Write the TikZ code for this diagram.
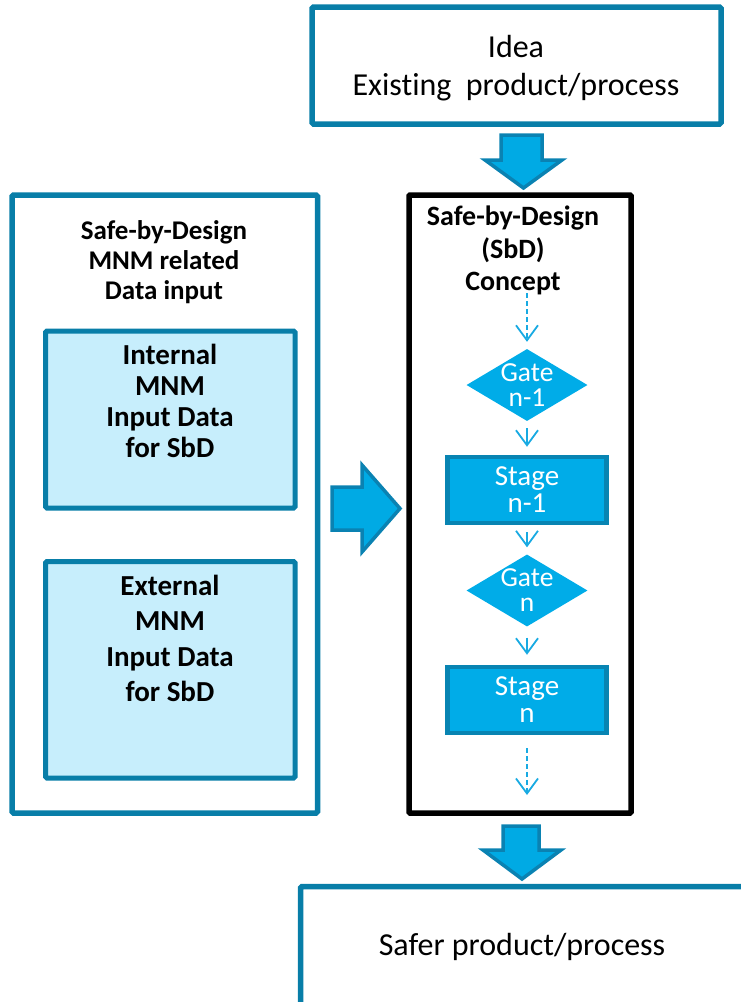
\documentclass[tikz,border=0pt]{standalone}
\usepackage{fontspec}
\setmainfont{Carlito}[Ligatures=NoCommon]
\usetikzlibrary{arrows.meta,shapes.geometric}
\definecolor{frameblue}{RGB}{8,126,168}
\definecolor{panelfill}{RGB}{199,238,252}
\definecolor{stepfill}{RGB}{0,172,232}
\definecolor{stepedge}{RGB}{8,132,178}
\definecolor{arrowfill}{RGB}{0,170,228}
\definecolor{arrowedge}{RGB}{10,130,178}
\definecolor{flowblue}{RGB}{24,170,226}
\begin{document}
\begin{tikzpicture}[x=1pt,y=-1pt,
  frame/.style={draw=frameblue, line width=5.5pt, rounded corners=1.5pt, inner sep=0pt},
  sbdframe/.style={draw=black, line width=5.5pt, rounded corners=1pt, inner sep=0pt},
  panel/.style={draw=frameblue, fill=panelfill, line width=5pt, rounded corners=1.5pt, inner sep=0pt},
  stagebox/.style={draw=stepedge, fill=stepfill, line width=4.5pt, inner sep=0pt,
    minimum width=159pt, minimum height=66pt, text=white, align=center,
    font=\fontsize{29}{27}\selectfont},
  gate/.style={diamond, fill=stepfill, inner sep=0pt, minimum width=121pt, minimum height=72pt},
  gatetext/.style={text=white, align=center, inner sep=0pt, font=\fontsize{27.5}{25}\selectfont},
  heading/.style={align=center, inner sep=0pt, font=\bfseries\fontsize{27}{30}\selectfont},
  paneltext/.style={align=center, inner sep=0pt, font=\bfseries\fontsize{29}{31}\selectfont},
  bigtext/.style={align=center, inner sep=0pt, font=\fontsize{32}{38}\selectfont},
  blockarrow/.style={fill=arrowfill, draw=arrowedge, line width=3.5pt, line join=miter},
  flow/.style={draw=flowblue, line width=1.8pt, -{Straight Barb[length=15pt,width=22pt]}},
  dotted flow/.style={flow, dash pattern=on 5pt off 3pt}
]
\useasboundingbox (0,0) rectangle (740,1002);

% starting point
\node[frame, minimum width=409pt, minimum height=117pt] (idea) at (516.5,65.5) {};
\node[bigtext] (ideatext) at (516,68) {Idea\\Existing\ \ product/process};

% data input column
\node[frame, minimum width=305.5pt, minimum height=618pt] (src) at (164.75,504) {};
\node[heading] (srctitle) at (164,262) {Safe-by-Design\\MNM related\\Data input};
\node[panel, minimum width=249.5pt, minimum height=177pt] (int) at (170.25,419.5) {};
\node[paneltext] (inttext) at (170,401) {Internal\\MNM\\Input Data\\for SbD};
\node[panel, minimum width=249.5pt, minimum height=216.5pt] (ext) at (170.25,669.75) {};
\node[paneltext, font=\bfseries\fontsize{29}{35.5}\selectfont] (exttext) at (170,638.5)
      {External\\MNM\\Input Data\\for SbD};

% SbD concept column
\node[sbdframe, minimum width=222pt, minimum height=618pt] (sbd) at (520,504) {};
\node[heading, font=\bfseries\fontsize{28}{32.5}\selectfont] (sbdtitle) at (513,250.5)
      {Safe-by-Design\\(SbD)\\Concept};

\node[gate] (g1) at (527,385) {};
\node[gatetext] at (g1) {Gate\\n-1};
\node[stagebox] (s1) at (527,490) {Stage\\n-1};
\node[gate] (g2) at (527,590.5) {};
\node[gatetext] at (g2) {Gate\\n};
\node[stagebox] (s2) at (527,700) {Stage\\n};

\coordinate (flowin) at (527,293);
\coordinate (flowout) at (527,795);

\draw[dotted flow, shorten >=7pt] (flowin) -- (g1.north);
\draw[flow, shorten <=7pt, shorten >=8pt] (g1.south) -- (s1.north);
\draw[flow, shorten <=7pt, shorten >=7pt] (s1.south) -- (g2.north);
\draw[flow, shorten <=11pt, shorten >=10pt] (g2.south) -- (s2.north);
\draw[dotted flow, shorten <=13pt] (s2.south) -- (flowout);

% result
\node[frame, minimum width=444.5pt, minimum height=123.5pt] (out) at (522.75,948.25) {};
\node[bigtext] (outtext) at (522,947) {Safer product/process};

% block arrows
\draw[blockarrow] (501,135) -- (542,135) -- (542,160) -- (562,160) -- (523.5,188)
      -- (485,160) -- (501,160) -- cycle;
\draw[blockarrow] (332,487) -- (362,487) -- (362,465) -- (400,508.5) -- (362,552)
      -- (362,530) -- (332,530) -- cycle;
\draw[blockarrow] (503,826) -- (539,826) -- (539,850) -- (561,850) -- (522,879)
      -- (483,850) -- (503,850) -- cycle;
\end{tikzpicture}
\end{document}
